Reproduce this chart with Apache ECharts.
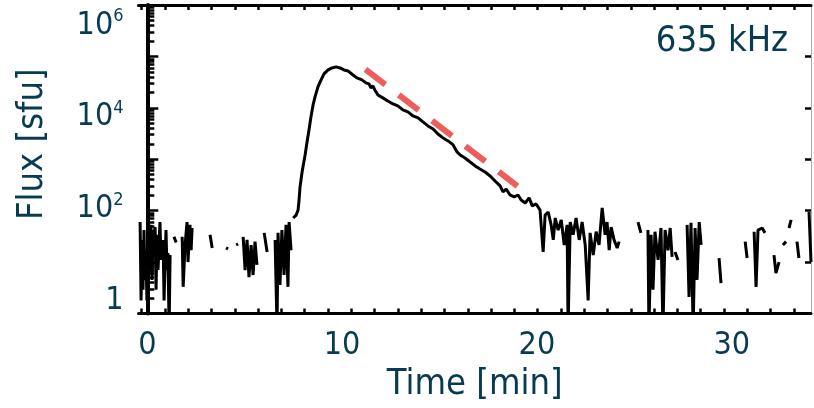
<!DOCTYPE html>
<html><head><meta charset="utf-8">
<script src="https://cdn.jsdelivr.net/npm/echarts@6/dist/echarts.min.js"></script>
<style>html,body{margin:0;padding:0;background:#fff}#c{width:814px;height:408px}</style>
</head><body><div id="c"></div>
<script>
// Time [min] and flux [sfu]; null flux marks a data gap
const timeMin = [
 -0.37,-0.32,-0.27,-0.22,-0.17,-0.12,-0.07,-0.02,0.04,0.09,0.19,0.24,0.29,0.40,0.45,0.50,0.55,0.65,0.70,0.81,0.86,0.96,1.01,1.06,1.12,1.17,
 1.27,1.37,1.48,
 1.60,1.79,1.84,1.94,2.04,2.09,2.19,2.25,2.30,
 2.80,3.22,3.33,
 3.70,4.04,4.15,
 4.35,4.56,4.66,
 4.80,4.92,5.02,5.12,5.22,5.33,5.43,5.53,5.63,
 5.80,6.00,6.15,
 6.35,6.56,6.66,6.71,6.81,6.91,7.02,7.12,7.22,7.28,7.38,
 7.43,7.49,7.64,7.74,7.79,7.84,7.94,7.99,8.10,8.20,8.30,8.40,8.51,8.61,8.76,8.92,9.07,9.28,9.48,9.69,9.89,10.10,10.30,10.56,10.76,11.02,11.22,11.38,11.48,11.58,11.68,11.84,12.09,12.35,12.61,12.86,13.12,13.38,13.64,13.90,14.15,14.41,14.67,14.92,15.18,15.44,15.70,15.90,16.06,16.31,16.57,16.83,17.08,17.34,17.60,17.85,18.11,18.26,18.42,18.62,18.83,19.03,19.19,19.40,19.60,19.76,19.96,20.16,20.32,20.42,20.58,20.73,20.84,20.94,21.09,21.25,21.40,21.55,21.60,21.71,21.86,22.01,22.17,22.32,22.48,22.63,22.73,22.89,23.04,23.19,23.35,23.50,23.60,23.71,23.81,23.96,24.12,24.22,
 24.70,25.19,25.34,
 25.50,25.70,25.75,25.86,25.96,26.06,26.22,26.37,26.47,26.58,26.73,26.84,26.94,
 27.00,27.09,27.24,
 27.50,27.71,27.81,27.91,28.02,28.12,28.22,28.33,28.43,
 28.90,29.35,29.45,
 30.00,30.69,30.79,
 31.00,31.15,31.25,31.35,31.56,31.71,
 31.90,32.17,32.27,32.43,
 32.50,32.63,32.79,
 32.85,32.94,33.05,
 33.20,33.35,33.45,
 33.70,33.97,34.07
];
const fluxSfu = [
 60,1.8,27,2.9,42,4.5,17,1.8,34,7,53,4.5,27,48,2.9,34,7,60,11,27,1.8,42,7,15,0.5,13.7,
 null,31,24,
 null,31,3.3,21.5,60,10,53,17,46,
 null,34,18.8,
 null,18.8,18,
 null,21.5,22.5,
 null,31,7,27,5.1,21.5,5.6,25,8.8,
 null,37,15.7,
 null,27,0.5,37,3.6,42,5.6,53,3.3,60,17,
 null,72,82,103,161,289,545,708,1210,2170,3720,6650,11400,16300,25500,34900,45700,54600,59700,62500,59700,54600,52200,43600,38200,34900,30500,29200,24400,26700,22300,17800,15600,13600,11900,10900,9100,8320,6950,6360,5320,4450,3880,3100,2600,2270,1900,1390,1210,1060,886,741,648,566,473,378,303,231,264,202,185,202,161,141,177,124,135,103,15.7,82,94,53,27,72,42,66,21.5,53,0.5,60,34,72,27,60,21.5,1.8,37,13.7,39,21.5,113,34,60,17,48,27,18.8,25,
 null,60,37,
 null,42,0.5,34,2.9,39,11,46,0.5,42,17,46,12.6,
 null,15.7,11,
 null,53,2.1,58,0.5,46,4.5,60,21.5,
 null,12,3.9,
 null,25,12,
 null,39,3.3,42,46,37,
 null,13.7,6.1,10,
 null,21.5,25,
 null,46,66,
 null,25,12,
 null,94,10
];
// Dashed decay fit
const fitTime = [11.2, 19.0];
const fitFlux = [56000, 300];
// Axis ticks and labels
const xLabelValues = [0, 10, 20, 30];
const xTickValues = [-0.29,0.91,2.10,3.30,4.49,5.69,6.89,8.08,9.28,10.47,11.67,12.87,14.06,15.26,16.45,17.65,18.85,20.04,21.24,22.43,23.63,24.83,26.02,27.22,28.41,29.61,30.81,32.00,33.20];
const yMajorTicks = [1, 10, 100, 1e3, 1e4, 1e5, 1e6];
const yMinorMultipliers = [2,3,4,5,6,7,8,9];
const yLabelValues = [1, 1e2, 1e4, 1e6];
const yLabelExps = ['', '2', '4', '6'];
const channelText = '635 kHz';
const xTitle = 'Time [min]';
const yTitle = 'Flux [sfu]';

const yMinorTicks = [];
yMajorTicks.slice(0, -1).forEach(d => yMinorMultipliers.forEach(m => yMinorTicks.push(d * m)));

const FONT = '"DejaVu Sans Condensed", "DejaVu Sans", sans-serif';
const TXT = '#083a52';

const fluxData = timeMin.map((t, i) => [t, fluxSfu[i]]);
const fitData = fitTime.map((t, i) => [t, fitFlux[i]]);

const xMin = -0.452, xMax = 34.07;
const frame = {show: true, lineStyle: {color: '#000', width: 3}};

const chart = echarts.init(document.getElementById('c'), null, {renderer: 'canvas'});
chart.setOption({
  animation: false,
  backgroundColor: '#fff',
  title: {
    text: channelText, right: 26, top: 24, padding: 0,
    textStyle: {fontFamily: FONT, fontSize: 36, fontWeight: 'normal', color: TXT}
  },
  grid: {left: 138.5, right: 3, top: 5, bottom: 94.5, containLabel: false, outerBoundsMode: 'none'},
  xAxis: [
    {
      type: 'value', min: xMin, max: xMax, position: 'bottom',
      axisLine: frame,
      axisTick: {show: true, inside: true, length: 5, customValues: xTickValues, lineStyle: {color: '#000', width: 2.5}},
      axisLabel: {show: true, customValues: xLabelValues, margin: 16, fontFamily: FONT, fontSize: 32, color: TXT},
      splitLine: {show: false},
      name: xTitle, nameLocation: 'middle', nameGap: 53,
      nameTextStyle: {fontFamily: FONT, fontSize: 36, color: TXT}
    },
    {
      type: 'value', min: xMin, max: xMax, position: 'top',
      axisLine: frame,
      axisTick: {show: true, inside: true, length: 5, customValues: xTickValues, lineStyle: {color: '#000', width: 2.5}},
      axisLabel: {show: false}, splitLine: {show: false}
    }
  ],
  yAxis: [
    {
      type: 'log', logBase: 10, min: 1, max: 1e6, position: 'left',
      axisLine: {show: true, lineStyle: {color: '#000', width: 4}},
      axisTick: {show: true, inside: true, length: 11, customValues: yMajorTicks, lineStyle: {color: '#000', width: 2.5}},
      axisLabel: {show: false}, splitLine: {show: false}
    },
    {
      type: 'log', logBase: 10, min: 1, max: 1e6, position: 'left',
      axisLine: {show: false},
      axisTick: {show: true, inside: true, length: 7, customValues: yMinorTicks, lineStyle: {color: '#000', width: 2.5}},
      axisLabel: {show: false}, splitLine: {show: false}
    },
    {
      type: 'log', logBase: 10, min: 1, max: 1e6, position: 'right',
      axisLine: {show: true, lineStyle: {color: '#9aa4a8', width: 1, type: 'dotted'}},
      axisTick: {show: true, inside: true, length: 6, customValues: yMajorTicks, lineStyle: {color: '#000', width: 2.5}},
      axisLabel: {show: false}, splitLine: {show: false}
    },
    {
      type: 'log', logBase: 10, min: 0.52, max: 2.804e6, position: 'left',
      axisLine: {show: false}, axisTick: {show: false}, splitLine: {show: false},
      axisLabel: {
        show: true, customValues: yLabelValues, margin: 15,
        formatter: function (v) {
          const i = yLabelValues.findIndex(x => Math.abs(x - v) / x < 1e-6);
          if (i < 0) return '';
          return yLabelExps[i] === '' ? '{b|1}' : '{b|10}{s|' + yLabelExps[i] + '}';
        },
        rich: {
          b: {fontFamily: FONT, fontSize: 32, lineHeight: 36, color: TXT},
          s: {fontFamily: FONT, fontSize: 18, verticalAlign: 'top', color: TXT}
        }
      },
      name: yTitle, nameLocation: 'middle', nameGap: 88, nameRotate: 90,
      nameTextStyle: {fontFamily: FONT, fontSize: 36, color: TXT, padding: [0, 0, 0, 30]}
    }
  ],
  series: [
    {
      type: 'line', xAxisIndex: 0, yAxisIndex: 0, data: fluxData,
      showSymbol: false, symbol: 'none', connectNulls: false, clip: true,
      lineStyle: {color: '#000', width: 3}, z: 3
    },
    {
      type: 'line', xAxisIndex: 0, yAxisIndex: 0, data: fitData,
      showSymbol: false, symbol: 'none', clip: true,
      lineStyle: {color: '#ee5c5c', width: 6, type: [25, 17], cap: 'butt'}, z: 4
    }
  ]
});
</script>
</body></html>
